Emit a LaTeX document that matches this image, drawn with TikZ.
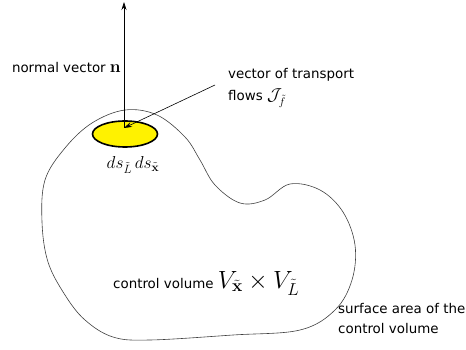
\documentclass[tikz,border=0pt]{standalone}
\usepackage{amsmath,amssymb}
\usepackage[no-math]{fontspec}
\setmainfont{DejaVu Sans}
\usepackage{tikz}
\usetikzlibrary{arrows.meta,shapes.geometric,positioning}
\newcommand{\lblfont}{\fontsize{13.4}{20}\selectfont}
\newcommand{\bigmath}{\fontsize{24}{28}\selectfont}
\newcommand{\midmath}{\fontsize{18}{22}\selectfont}

\begin{document}
\begin{tikzpicture}[x=1pt,y=-1pt,font=\lblfont,>={Stealth[length=8pt,width=5pt]}]
\useasboundingbox (0,0) rectangle (466,350);
% control volume boundary
\draw[line width=0.6pt,black!75] plot[smooth cycle,tension=0.6] coordinates {
  (125,110) (157,115) (185,137) (200,160) (215,185) (240,203) (265,200)
  (290,184) (320,190) (343,212) (355,245) (352,280) (335,310) (300,330)
  (233,335) (150,340) (113,337) (85,320) (65,295) (48,262) (42,222)
  (45,180) (65,148) (92,123)};
% surface element
\node[ellipse,draw,line width=1.6pt,fill=yellow,minimum width=65pt,minimum height=26pt,inner sep=0] (patch) at (125,134) {};
\coordinate (c) at (124,128);
\coordinate (ntip) at (124,2);
\draw[->,line width=0.6pt] (c) -- (ntip);
\node[anchor=base east,inner sep=0] (nlbl) at (121,73) {normal vector {\midmath$\mathbf{n}$}};
\node[anchor=west,inner sep=0,align=left,font=\fontsize{13.4}{22}\selectfont] (flbl) at (228,88) {vector of transport\\flows {\fontsize{16}{18}\selectfont$\mathcal{J}_{\tilde f}$}};
\draw[->,line width=0.6pt] ([xshift=-13pt,yshift=3pt]flbl.west) -- (c);
\node[inner sep=0,font=\midmath] (dslbl) at (133,165) {$ds_{\tilde L}\,ds_{\tilde{\mathbf{x}}}$};
\node[anchor=base west,inner sep=0] (vlbl) at (113,288) {control volume {\bigmath$V_{\tilde{\mathbf{x}}}\times V_{\tilde L}$}};
\node[anchor=west,inner sep=0,align=left] (slbl) at (338,319) {surface area of the\\control volume};
\end{tikzpicture}
\end{document}
